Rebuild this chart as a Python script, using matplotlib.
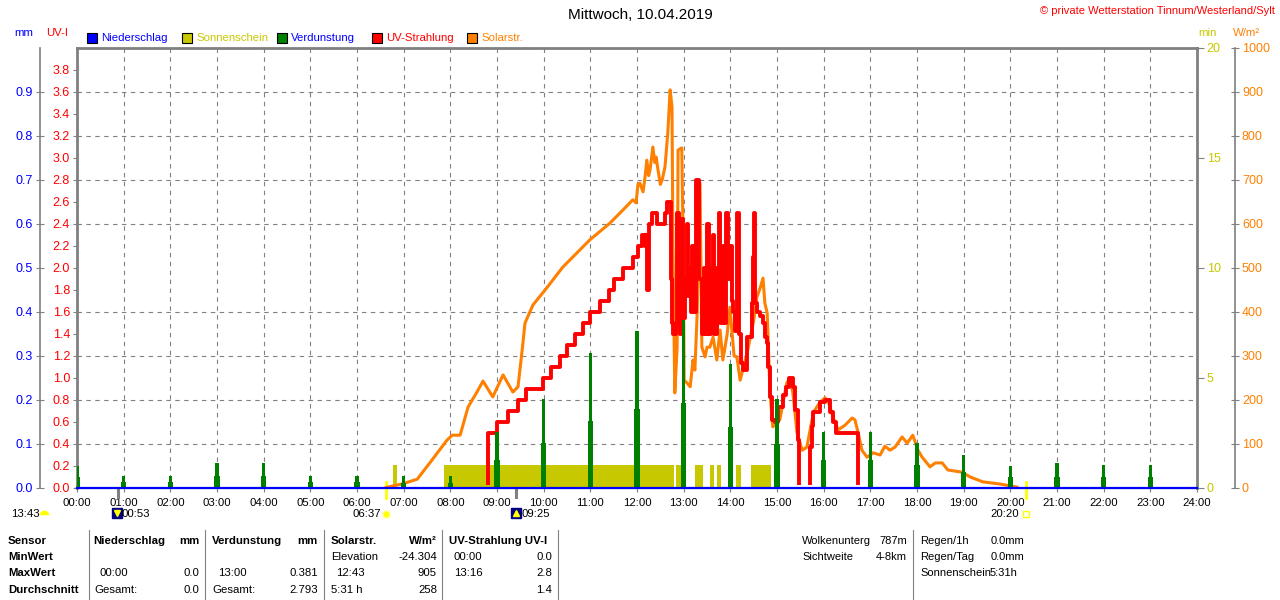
import matplotlib
matplotlib.use('Agg')
import matplotlib.pyplot as plt
import matplotlib.transforms as mtransforms
from matplotlib.patches import Rectangle
from matplotlib.lines import Line2D

plt.rcParams['font.family'] = ['Liberation Sans', 'DejaVu Sans']
plt.rcParams['font.size'] = 8.2

BLUE = '#0000ff'
RED = '#ff0000'
ORANGE = '#ff8000'
GREEN = '#008000'
OLIVE = '#c8c800'
GRAY = '#808080'
YELLOW = '#ffff00'

# --- Daten ---
hours = list(range(25))
hour_labels = ['%02d:00' % h for h in hours]

# Solarstrahlung W/m2
solar_t = [6.60, 6.66, 6.99, 7.29, 7.56, 7.93, 8.04, 8.21, 8.38, 8.57, 8.70, 8.91, 9.13, 9.34,
           9.45, 9.54, 9.60, 9.77, 10.03, 10.41, 10.99, 11.42, 11.70, 11.91, 11.98, 12.02,
           12.06, 12.13, 12.17, 12.21, 12.25, 12.28, 12.34, 12.38, 12.41, 12.45, 12.50, 12.54,
           12.60, 12.66, 12.71, 12.75, 12.77, 12.81, 12.86, 12.88, 12.96, 12.99, 13.01, 13.07,
           13.14, 13.20, 13.24, 13.29, 13.35, 13.39, 13.46, 13.50, 13.56, 13.63, 13.71, 13.78,
           13.84, 13.93, 13.99, 14.08, 14.14, 14.21, 14.36, 14.50, 14.57, 14.64, 14.70, 14.74,
           14.79, 14.85, 14.91, 15.06, 15.21, 15.28, 15.34, 15.43, 15.54, 15.64, 15.75, 15.81,
           15.92, 16.03, 16.11, 16.20, 16.31, 16.46, 16.61, 16.67, 16.74, 16.82, 16.93, 17.06,
           17.21, 17.31, 17.42, 17.53, 17.68, 17.79, 17.91, 18.02, 18.11, 18.28, 18.39, 18.54,
           18.66, 18.96, 19.14, 19.41, 19.78, 19.99, 20.14]
solar_w = [0, 2, 10, 20, 57, 109, 120, 120, 184, 218, 243, 207, 257, 218,
           230, 314, 375, 416, 450, 502, 564, 602, 632, 655, 648, 690,
           693, 673, 705, 745, 710, 723, 775, 740, 752, 723, 690, 700,
           730, 807, 905, 866, 548, 216, 320, 768, 773, 548, 245, 239,
           230, 291, 268, 398, 693, 320, 298, 320, 320, 343, 291, 359,
           291, 348, 411, 300, 298, 245, 307, 380, 434, 455, 477, 420,
           398, 216, 139, 155, 239, 250, 216, 125, 86, 93, 155, 177,
           195, 205, 193, 161, 132, 143, 159, 155, 125, 86, 70, 80,
           75, 95, 86, 93, 116, 102, 120, 86, 70, 48, 57, 57,
           41, 36, 25, 14, 9, 5, 2]

# UV-Strahlung UV-I
uv_t = [0.0, 8.81, 9.00, 9.24, 9.45, 9.62, 9.99, 10.16, 10.35, 10.50, 10.67, 10.84, 10.99,
        11.21, 11.40, 11.50, 11.70, 11.91, 12.02, 12.10, 12.17, 12.20, 12.22, 12.25, 12.32,
        12.43, 12.60, 12.64, 12.73, 12.75, 12.77, 12.83, 12.86, 12.89, 12.92, 12.94, 12.98,
        13.03, 13.07, 13.10, 13.13, 13.16, 13.18, 13.22, 13.27, 13.33, 13.39, 13.44, 13.48,
        13.50, 13.54, 13.58, 13.62, 13.66, 13.71, 13.75, 13.78, 13.84, 13.87, 13.91, 13.95,
        13.99, 14.03, 14.06, 14.10, 14.14, 14.18, 14.22, 14.27, 14.36, 14.46, 14.49, 14.51,
        14.53, 14.57, 14.64, 14.70, 14.74, 14.78, 14.81, 14.85, 14.89, 14.95, 15.02, 15.12,
        15.19, 15.25, 15.34, 15.38, 15.45, 15.47, 15.70, 15.75, 15.77, 15.92, 16.03, 16.13,
        16.20, 16.26, 16.73, 24.0]
uv_v = [0.0, 0.5, 0.6, 0.7, 0.8, 0.9, 1.0, 1.1, 1.2, 1.3, 1.4, 1.5, 1.6,
        1.7, 1.8, 1.9, 2.0, 2.1, 2.2, 2.3, 2.2, 2.3, 1.8, 2.4, 2.5,
        2.4, 2.5, 2.6, 1.9, 1.5, 1.4, 1.5, 2.5, 1.9, 1.4, 2.45, 1.55,
        1.9, 2.4, 1.75, 2.0, 1.6, 2.2, 1.6, 2.8, 1.9, 1.4, 2.0, 1.4,
        2.4, 1.4, 2.0, 2.3, 1.4, 2.0, 2.5, 1.5, 2.2, 1.5, 2.5, 1.9,
        2.2, 1.7, 1.6, 1.43, 2.5, 1.4, 1.14, 1.07, 1.37, 1.68, 2.1, 2.5,
        1.68, 1.6, 1.56, 1.5, 1.37, 1.32, 1.1, 0.83, 0.62, 0.6, 0.74, 0.85,
        0.92, 1.0, 0.92, 0.71, 0.44, 0.0, 0.37, 0.56, 0.69, 0.78, 0.8, 0.69,
        0.6, 0.5, 0.0, 0.0]

# Verdunstung mm (stuendlich)
verd_hour = list(range(24))
verd_peak = [0.050, 0.027, 0.027, 0.057, 0.057, 0.027, 0.027, 0.027, 0.027, 0.127, 0.202, 0.307,
             0.357, 0.381, 0.282, 0.202, 0.127, 0.127, 0.102, 0.075, 0.050, 0.057, 0.052, 0.052]
verd_base = [0.025, 0.014, 0.014, 0.028, 0.028, 0.014, 0.014, 0.012, 0.012, 0.064, 0.102, 0.152,
             0.180, 0.193, 0.139, 0.100, 0.064, 0.064, 0.052, 0.036, 0.025, 0.025, 0.025, 0.025]

# Sonnenschein min
sun_start = [6.78, 7.86, 12.84, 13.24, 13.56, 13.71, 14.12, 14.44]
sun_end = [6.85, 12.79, 12.96, 13.41, 13.65, 13.80, 14.23, 14.87]
sun_min = 1.05

# Niederschlag mm
rain_t = [0, 24]
rain_mm = [0.0, 0.0]

sunrise, sunset = 6.617, 20.333
moonset, moonrise = 0.883, 9.417

# --- Figur ---
W, H = 1280, 600
fig = plt.figure(figsize=(12.8, 6), dpi=100, facecolor='white')


def fx(x):
    return x / W


def fy(y):
    return 1 - y / H


def txt(x, y, s, **kw):
    kw.setdefault('va', 'center')
    fig.text(fx(x), fy(y), s, **kw)


ax_min = fig.add_axes([fx(77), fy(488), (1197 - 77) / W, (488 - 48) / H])
ax_min.patch.set_visible(False)
ax_sol = ax_min.twinx()
ax_uv = ax_min.twinx()
ax_mm = ax_min.twinx()

# Sonnenschein
ax_min.set_xlim(0, 24)
ax_min.set_ylim(0, 20)
widths = [e - s for s, e in zip(sun_start, sun_end)]
ax_min.bar(sun_start, [sun_min] * len(sun_start), width=widths, align='edge',
           color=OLIVE, linewidth=0)
ax_min.yaxis.tick_right()
ax_min.set_yticks([0, 5, 10, 15, 20])
ax_min.set_yticks(range(0, 21, 2), minor=True)
ax_min.tick_params(axis='y', which='major', colors=GRAY, labelcolor=OLIVE, length=5,
                   direction='out', labelsize=9, pad=2)
ax_min.tick_params(axis='y', which='minor', length=0)
ax_min.set_xticks(hours)
ax_min.set_xticklabels(hour_labels)
ax_min.tick_params(axis='x', colors=GRAY, labelcolor='black', length=3, pad=4)
ax_min.grid(True, axis='y', which='minor', color=GRAY, linestyle=(0, (4, 4)), linewidth=0.8)
ax_min.grid(True, axis='x', which='major', color=GRAY, linestyle=(0, (4, 4)), linewidth=0.8)
ax_min.set_axisbelow(True)
for s in ['left', 'top', 'right']:
    ax_min.spines[s].set_color(GRAY)
    ax_min.spines[s].set_linewidth(2)
ax_min.spines['bottom'].set_color(GRAY)

# Solarstrahlung
ax_sol.set_ylim(0, 1000)
ax_sol.plot(solar_t, solar_w, color=ORANGE, linewidth=2.2)
ax_sol.set_yticks(range(0, 1001, 100))
ax_sol.spines['right'].set_position(('axes', (1235 - 77) / 1120))
for s in ['left', 'top', 'bottom']:
    ax_sol.spines[s].set_visible(False)
ax_sol.spines['right'].set_color(GRAY)
ax_sol.spines['right'].set_linewidth(1.2)
ax_sol.tick_params(axis='y', colors=GRAY, labelcolor=ORANGE, length=6, direction='inout',
                   labelsize=9, pad=2)

# UV (Nullwerte unter der Niederschlagslinie verbergen)
ax_uv.set_ylim(0, 4)
uv_line, = ax_uv.plot(uv_t, uv_v, color=RED, linewidth=2.8, drawstyle='steps-post')
uv_line.set_clip_path(Rectangle((0, 0.006), 1, 1, transform=ax_uv.transAxes))
ax_uv.yaxis.tick_left()
ax_uv.set_yticks([i * 0.2 for i in range(20)])
ax_uv.set_yticklabels(['%.1f' % (i * 0.2) for i in range(20)])
ax_uv.tick_params(axis='y', colors=GRAY, labelcolor=RED, length=3, direction='out',
                  labelsize=9, pad=2)
for s in ax_uv.spines.values():
    s.set_visible(False)

# Verdunstung + Niederschlag
ax_mm.set_ylim(0, 1)
ax_mm.bar(verd_hour, verd_base, width=0.11, color=GREEN, linewidth=0)
ax_mm.bar(verd_hour, verd_peak, width=0.07, color=GREEN, linewidth=0)
ax_mm.plot(rain_t, rain_mm, color=BLUE, linewidth=1.6, clip_on=False)
ax_mm.yaxis.tick_left()
ax_mm.set_yticks([i * 0.1 for i in range(10)])
ax_mm.set_yticklabels(['%.1f' % (i * 0.1) for i in range(10)])
for s in ['right', 'top', 'bottom']:
    ax_mm.spines[s].set_visible(False)
ax_mm.spines['left'].set_position(('axes', (40 - 77) / 1120))
ax_mm.spines['left'].set_color(GRAY)
ax_mm.spines['left'].set_linewidth(1.2)
ax_mm.tick_params(axis='y', colors=GRAY, labelcolor=BLUE, length=6, direction='inout',
                  labelsize=9, pad=2)

# Sonnenauf-/untergang, Mondzeiten
trans = mtransforms.blended_transform_factory(ax_min.transData, ax_min.transAxes)
for t in [sunrise, sunset]:
    ax_min.plot([t, t], [0.014, -0.022], color=YELLOW, linewidth=2, transform=trans,
                clip_on=False, zorder=10)
for t in [moonset, moonrise]:
    ax_min.plot([t, t], [0.0, -0.02], color=GRAY, linewidth=2.2, transform=trans,
                clip_on=False, zorder=10)

# Titel
txt(640, 15, 'Mittwoch, 10.04.2019', ha='center', fontsize=11)
txt(1275, 11, '\u00a9 private Wetterstation Tinnum/Westerland/Sylt', ha='right',
    color=RED, fontsize=8)

# Achsentitel
txt(14, 33, 'mm', color=BLUE)
txt(46, 33, 'UV-I', color=RED)
txt(1198, 33, 'min', color=OLIVE)
txt(1233, 33, 'W/m\u00b2', color=ORANGE)

# Legende
legend = [('Niederschlag', BLUE, BLUE, 87),
          ('Sonnenschein', OLIVE, OLIVE, 182),
          ('Verdunstung', GREEN, BLUE, 277),
          ('UV-Strahlung', RED, RED, 372),
          ('Solarstr.', ORANGE, ORANGE, 467)]
for name, fc, tc, x in legend:
    fig.add_artist(Rectangle((fx(x), fy(43)), 10 / W, 10 / H, transform=fig.transFigure,
                             facecolor=fc, edgecolor='black', linewidth=0.8))
    txt(x + 14, 38, name, color=tc)

# Zeiten unter der Achse
txt(11, 514, '13:43')
fig.add_artist(Line2D([fx(44)], [fy(515)], marker='o', markersize=7, fillstyle='top',
                      markerfacecolor=YELLOW, markerfacecoloralt='white',
                      markeredgecolor='none', transform=fig.transFigure))
for x, s, arrow in [(117, '00:53', 'v'), (516, '09:25', '^')]:
    fig.add_artist(Line2D([fx(x)], [fy(513)], marker='s', markersize=7, color='#000080',
                          transform=fig.transFigure))
    fig.add_artist(Line2D([fx(x)], [fy(513)], marker=arrow, markersize=4, color=YELLOW,
                          transform=fig.transFigure))
    txt(x + 5, 514, s)
txt(381, 514, '06:37', ha='right')
fig.add_artist(Line2D([fx(386)], [fy(514)], marker='o', markersize=5, color=YELLOW,
                      markeredgecolor='#ffff80', transform=fig.transFigure))
txt(1019, 514, '20:20', ha='right')
fig.add_artist(Line2D([fx(1026)], [fy(514)], marker='s', markersize=4, markerfacecolor='none',
                      markeredgecolor=YELLOW, transform=fig.transFigure))

# Tabelle
for x in [89, 205, 324, 442, 558, 913]:
    fig.add_artist(Line2D([fx(x), fx(x)], [fy(530), fy(600)], color=GRAY, linewidth=0.8,
                          transform=fig.transFigure))
rows_y = [541, 557, 573, 590]
for y, s in zip(rows_y, ['Sensor', 'MinWert', 'MaxWert', 'Durchschnitt']):
    txt(8, y, s, fontweight='bold')

txt(93, 541, 'Niederschlag', fontweight='bold')
txt(199, 541, 'mm', fontweight='bold', ha='right')
txt(100, 573, '00:00')
txt(199, 573, '0.0', ha='right')
txt(94, 590, 'Gesamt:')
txt(199, 590, '0.0', ha='right')

txt(212, 541, 'Verdunstung', fontweight='bold')
txt(318, 541, 'mm', fontweight='bold', ha='right')
txt(218, 573, '13:00')
txt(318, 573, '0.381', ha='right')
txt(212, 590, 'Gesamt:')
txt(318, 590, '2.793', ha='right')

txt(331, 541, 'Solarstr.', fontweight='bold')
txt(437, 541, 'W/m\u00b2', fontweight='bold', ha='right')
txt(331, 557, 'Elevation')
txt(437, 557, '-24.304', ha='right')
txt(336, 573, '12:43')
txt(437, 573, '905', ha='right')
txt(331, 590, '5:31 h')
txt(437, 590, '258', ha='right')

txt(449, 541, 'UV-Strahlung UV-I', fontweight='bold')
txt(454, 557, '00:00')
txt(552, 557, '0.0', ha='right')
txt(454, 573, '13:16')
txt(552, 573, '2.8', ha='right')
txt(552, 590, '1.4', ha='right')

txt(802, 541, 'Wolkenunterg', fontsize=8)
txt(907, 541, '787m', ha='right', fontsize=8)
txt(802, 557, 'Sichtweite', fontsize=8)
txt(907, 557, '4-8km', ha='right', fontsize=8)
txt(920, 541, 'Regen/1h', fontsize=8)
txt(991, 541, '0.0mm', fontsize=8)
txt(920, 557, 'Regen/Tag', fontsize=8)
txt(991, 557, '0.0mm', fontsize=8)
txt(920, 573, 'Sonnenschein', fontsize=8)
txt(1017, 573, '5:31h', ha='right', fontsize=8)

fig.savefig('out.png', dpi=100, facecolor='white')
